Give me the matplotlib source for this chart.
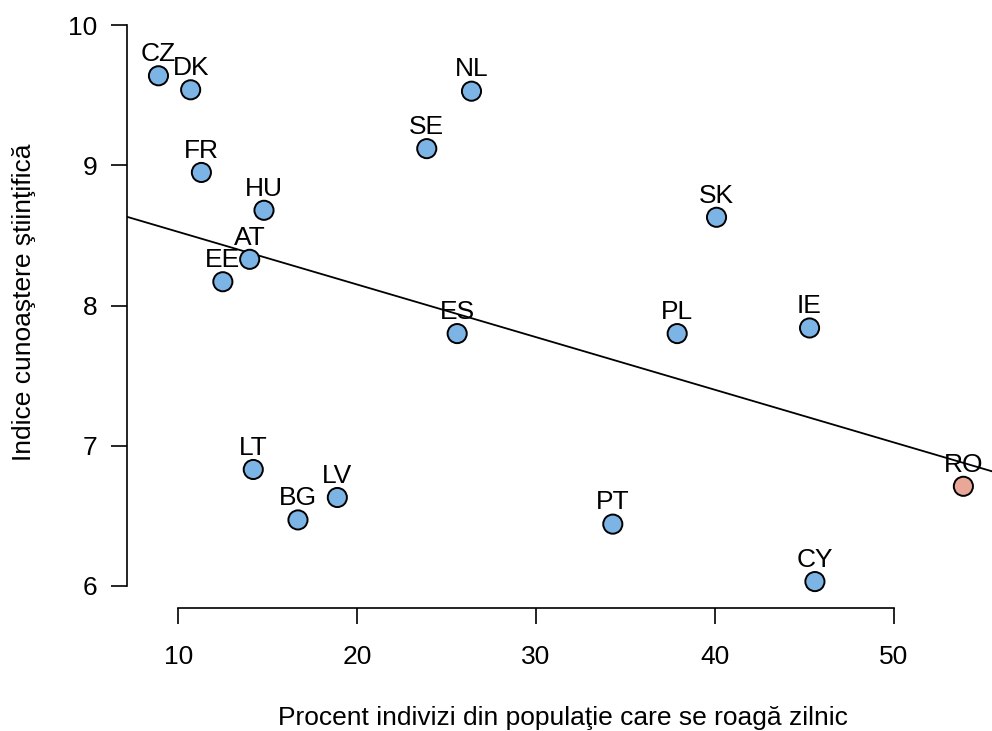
import numpy as np
import matplotlib
matplotlib.use("Agg")
import matplotlib.pyplot as plt

# country codes and values
countries = ["CZ", "DK", "FR", "HU", "AT", "EE", "LT", "BG", "LV",
             "SE", "NL", "ES", "PT", "PL", "SK", "IE", "CY", "RO"]
pray_daily = [8.9, 10.7, 11.3, 14.8, 14.0, 12.5, 14.2, 16.7, 18.9,
              23.9, 26.4, 25.6, 34.3, 37.9, 40.1, 45.3, 45.6, 53.9]
sci_knowledge = [9.64, 9.54, 8.95, 8.68, 8.33, 8.17, 6.83, 6.47, 6.63,
                 9.12, 9.53, 7.80, 6.44, 7.80, 8.63, 7.84, 6.03, 6.71]
x_ticks = [10, 20, 30, 40, 50]
y_ticks = [6, 7, 8, 9, 10]

plt.rcParams["font.family"] = ["Liberation Sans", "DejaVu Sans"]
fs = 19

x = np.array(pray_daily)
y = np.array(sci_knowledge)
colors = ["#E9A798" if c == "RO" else "#7DB4E6" for c in countries]

fig = plt.figure(figsize=(9.92, 7.31), dpi=100)
ax = fig.add_axes([0.128, 0.168, 0.872, 0.828])

# regression line
slope, intercept = np.polyfit(x, y, 1)
xl = np.array([0, 60])
ax.plot(xl, intercept + slope * xl, color="black", lw=1.3, zorder=1)

ax.scatter(x, y, s=190, c=colors, edgecolors="black", linewidths=1.4, zorder=3)
for c, xi, yi in zip(countries, x, y):
    ax.annotate(c, (xi, yi), xytext=(0, 7), textcoords="offset points",
                ha="center", va="bottom", fontsize=fs, zorder=2)

ax.set_xlim(7.14, 55.5)
ax.set_ylim(5.84, 10.16)
ax.set_xticks(x_ticks)
ax.set_yticks(y_ticks)
ax.spines["top"].set_visible(False)
ax.spines["right"].set_visible(False)
ax.spines["left"].set_bounds(6, 10)
ax.spines["bottom"].set_bounds(10, 50)
for s in ("left", "bottom"):
    ax.spines[s].set_linewidth(1.2)
ax.tick_params(length=11.5, width=1.2, labelsize=fs)
ax.tick_params(axis="x", pad=15)
ax.tick_params(axis="y", pad=10)
ax.set_xlabel("Procent indivizi din populaţie care se roagă zilnic",
              fontsize=fs, va="center")
ax.set_ylabel("Indice cunoaştere ştiinţifică", fontsize=fs, va="center")
ax.xaxis.set_label_coords((563 - 127) / 865, -0.182)
ax.yaxis.set_label_coords(-0.119, (731 - 302 - 123) / 605)
ax.patch.set_alpha(0)

plt.savefig("out.png", dpi=100)
